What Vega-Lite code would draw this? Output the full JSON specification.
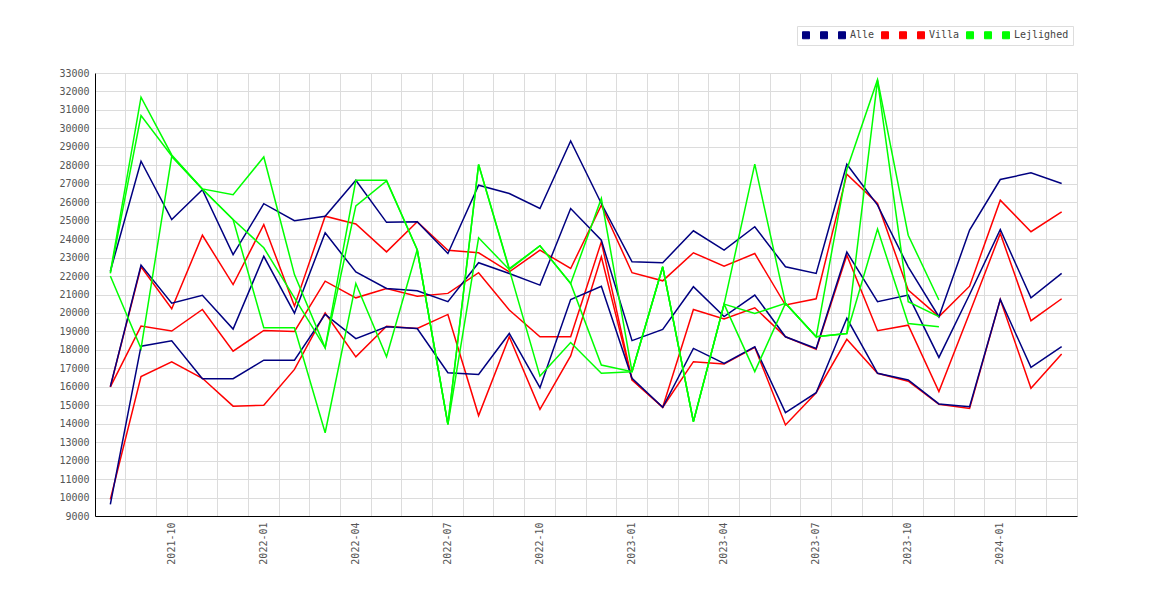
{
  "$schema": "https://vega.github.io/schema/vega-lite/v6.json",
  "autosize": "none",
  "width": 982,
  "height": 443,
  "padding": {"left": 95, "top": 73, "right": 93, "bottom": 84},
  "background": "white",
  "config": {
    "font": "DejaVu Sans Mono",
    "view": {"stroke": null},
    "axis": {
      "labelFont": "DejaVu Sans Mono",
      "labelFontSize": 10,
      "labelColor": "#555555",
      "gridColor": "#dcdcdc",
      "gridWidth": 1,
      "domainColor": "#000000",
      "domainWidth": 1,
      "ticks": false,
      "title": null
    }
  },
  "data": {
    "values": [
      {"m": "2021-08", "Alle_1": 9630, "Alle_2": 16010, "Alle": 22260, "Villa_1": 9900, "Villa_2": 16000, "Villa": 16000, "Lejlighed_1": 22000, "Lejlighed_2": 22150, "Lejlighed": 22200},
      {"m": "2021-09", "Alle_1": 18200, "Alle_2": 22590, "Alle": 28220, "Villa_1": 16550, "Villa_2": 19290, "Villa": 22500, "Lejlighed_1": 18070, "Lejlighed_2": 30690, "Lejlighed": 31690},
      {"m": "2021-10", "Alle_1": 18490, "Alle_2": 20530, "Alle": 25060, "Villa_1": 17350, "Villa_2": 19020, "Villa": 20230, "Lejlighed_1": 28480, "Lejlighed_2": 28500, "Lejlighed": 28560},
      {"m": "2021-11", "Alle_1": 16440, "Alle_2": 20960, "Alle": 26680, "Villa_1": 16460, "Villa_2": 20190, "Villa": 24210, "Lejlighed_1": 26700, "Lejlighed_2": 26710, "Lejlighed": 26720},
      {"m": "2021-12", "Alle_1": 16440, "Alle_2": 19130, "Alle": 23160, "Villa_1": 14950, "Villa_2": 17930, "Villa": 21540, "Lejlighed_1": 25060, "Lejlighed_2": 25060, "Lejlighed": 26410},
      {"m": "2022-01", "Alle_1": 17440, "Alle_2": 23070, "Alle": 25920, "Villa_1": 15000, "Villa_2": 19050, "Villa": 24790, "Lejlighed_1": 19200, "Lejlighed_2": 23530, "Lejlighed": 28450},
      {"m": "2022-02", "Alle_1": 17440, "Alle_2": 19990, "Alle": 25000, "Villa_1": 16940, "Villa_2": 19000, "Villa": 20370, "Lejlighed_1": 19200, "Lejlighed_2": 20820, "Lejlighed": 22080},
      {"m": "2022-03", "Alle_1": 19920, "Alle_2": 24340, "Alle": 25240, "Villa_1": 20000, "Villa_2": 21720, "Villa": 25240, "Lejlighed_1": 13510, "Lejlighed_2": 18110, "Lejlighed": 18110},
      {"m": "2022-04", "Alle_1": 18610, "Alle_2": 22220, "Alle": 27190, "Villa_1": 17620, "Villa_2": 20820, "Villa": 24820, "Lejlighed_1": 21600, "Lejlighed_2": 25800, "Lejlighed": 27190},
      {"m": "2022-05", "Alle_1": 19250, "Alle_2": 21330, "Alle": 24910, "Villa_1": 19280, "Villa_2": 21330, "Villa": 23310, "Lejlighed_1": 17630, "Lejlighed_2": 27150, "Lejlighed": 27190},
      {"m": "2022-06", "Alle_1": 19160, "Alle_2": 21200, "Alle": 24940, "Villa_1": 19160, "Villa_2": 20910, "Villa": 24940, "Lejlighed_1": 23430, "Lejlighed_2": 23430, "Lejlighed": 23430},
      {"m": "2022-07", "Alle_1": 16760, "Alle_2": 20610, "Alle": 23220, "Villa_1": 19920, "Villa_2": 21060, "Villa": 23400, "Lejlighed_1": 13960, "Lejlighed_2": 13960, "Lejlighed": 13960},
      {"m": "2022-08", "Alle_1": 16670, "Alle_2": 22720, "Alle": 26920, "Villa_1": 14440, "Villa_2": 22180, "Villa": 23260, "Lejlighed_1": 24070, "Lejlighed_2": 28040, "Lejlighed": 28040},
      {"m": "2022-09", "Alle_1": 18890, "Alle_2": 22140, "Alle": 26470, "Villa_1": 18710, "Villa_2": 20160, "Villa": 22230, "Lejlighed_1": 22350, "Lejlighed_2": 22350, "Lejlighed": 22400},
      {"m": "2022-10", "Alle_1": 15950, "Alle_2": 21510, "Alle": 25660, "Villa_1": 14780, "Villa_2": 18710, "Villa": 23400, "Lejlighed_1": 16580, "Lejlighed_2": 23640, "Lejlighed": 23640},
      {"m": "2022-11", "Alle_1": 20730, "Alle_2": 25660, "Alle": 29320, "Villa_1": 17670, "Villa_2": 18710, "Villa": 22410, "Lejlighed_1": 18400, "Lejlighed_2": 21600, "Lejlighed": 21600},
      {"m": "2022-12", "Alle_1": 21450, "Alle_2": 23940, "Alle": 25930, "Villa_1": 23040, "Villa_2": 23850, "Villa": 25840, "Lejlighed_1": 16730, "Lejlighed_2": 17180, "Lejlighed": 26200},
      {"m": "2023-01", "Alle_1": 16460, "Alle_2": 18500, "Alle": 22770, "Villa_1": 16370, "Villa_2": 16370, "Villa": 22180, "Lejlighed_1": 16820, "Lejlighed_2": 16820, "Lejlighed": 16820},
      {"m": "2023-02", "Alle_1": 14890, "Alle_2": 19110, "Alle": 22720, "Villa_1": 14890, "Villa_2": 14890, "Villa": 21740, "Lejlighed_1": 22500, "Lejlighed_2": 22500, "Lejlighed": 22500},
      {"m": "2023-03", "Alle_1": 18080, "Alle_2": 21420, "Alle": 24450, "Villa_1": 17360, "Villa_2": 20190, "Villa": 23260, "Lejlighed_1": 14110, "Lejlighed_2": 14110, "Lejlighed": 14110},
      {"m": "2023-04", "Alle_1": 17270, "Alle_2": 19800, "Alle": 23400, "Villa_1": 17230, "Villa_2": 19680, "Villa": 22540, "Lejlighed_1": 20480, "Lejlighed_2": 20480, "Lejlighed": 20480},
      {"m": "2023-05", "Alle_1": 18170, "Alle_2": 20970, "Alle": 24670, "Villa_1": 18140, "Villa_2": 20280, "Villa": 23220, "Lejlighed_1": 16820, "Lejlighed_2": 19970, "Lejlighed": 28060},
      {"m": "2023-06", "Alle_1": 14600, "Alle_2": 18710, "Alle": 22500, "Villa_1": 13930, "Villa_2": 18710, "Villa": 20430, "Lejlighed_1": 20520, "Lejlighed_2": 20520, "Lejlighed": 20520},
      {"m": "2023-07", "Alle_1": 15680, "Alle_2": 18080, "Alle": 22140, "Villa_1": 15680, "Villa_2": 18030, "Villa": 20770, "Lejlighed_1": 18710, "Lejlighed_2": 18710, "Lejlighed": 18710},
      {"m": "2023-08", "Alle_1": 19710, "Alle_2": 23300, "Alle": 28060, "Villa_1": 18570, "Villa_2": 23130, "Villa": 27520, "Lejlighed_1": 18890, "Lejlighed_2": 18890, "Lejlighed": 27770},
      {"m": "2023-09", "Alle_1": 16730, "Alle_2": 20610, "Alle": 25840, "Villa_1": 16730, "Villa_2": 19040, "Villa": 25930, "Lejlighed_1": 24550, "Lejlighed_2": 32600, "Lejlighed": 32640},
      {"m": "2023-10", "Alle_1": 16370, "Alle_2": 20970, "Alle": 22500, "Villa_1": 16300, "Villa_2": 19340, "Villa": 21240, "Lejlighed_1": 19430, "Lejlighed_2": 20610, "Lejlighed": 24210},
      {"m": "2023-11", "Alle_1": 15070, "Alle_2": 17590, "Alle": 19800, "Villa_1": 15050, "Villa_2": 15740, "Villa": 19800, "Lejlighed_1": 19250, "Lejlighed_2": 19800, "Lejlighed": 20700},
      {"m": "2023-12", "Alle_1": 14920, "Alle_2": 21000, "Alle": 24490, "Villa_1": 14830, "Villa_2": 20000, "Villa": 21450},
      {"m": "2024-01", "Alle_1": 20730, "Alle_2": 24520, "Alle": 27230, "Villa_1": 20730, "Villa_2": 24310, "Villa": 26110},
      {"m": "2024-02", "Alle_1": 17050, "Alle_2": 20820, "Alle": 27590, "Villa_1": 15920, "Villa_2": 19580, "Villa": 24400},
      {"m": "2024-03", "Alle_1": 18170, "Alle_2": 22140, "Alle": 27010, "Villa_1": 17780, "Villa_2": 20770, "Villa": 25480}
    ]
  },
  "encoding": {
    "x": {
      "field": "m",
      "type": "ordinal",
      "scale": {"type": "band", "paddingInner": 0, "paddingOuter": 0},
      "axis": {
        "grid": true,
        "bandPosition": 1,
        "labelAngle": 270,
        "labelPadding": 6,
        "labelOverlap": false,
        "labelExpr": "indexof(['01','04','07','10'], slice(datum.value, 5)) >= 0 ? datum.value : ''"
      }
    },
    "y": {
      "field": "v",
      "type": "quantitative",
      "scale": {"domain": [9000, 33000], "nice": false, "zero": false},
      "axis": {
        "grid": true,
        "format": "d",
        "labelPadding": 6,
        "values": [9000, 10000, 11000, 12000, 13000, 14000, 15000, 16000, 17000, 18000, 19000, 20000, 21000, 22000, 23000, 24000, 25000, 26000, 27000, 28000, 29000, 30000, 31000, 32000, 33000]
      }
    },
    "color": {
      "field": "serie",
      "type": "nominal",
      "scale": {
        "domain": ["Alle_1", "Alle_2", "Alle", "Villa_1", "Villa_2", "Villa", "Lejlighed_1", "Lejlighed_2", "Lejlighed"],
        "range": ["#000080", "#000080", "#000080", "#ff0000", "#ff0000", "#ff0000", "#00ff00", "#00ff00", "#00ff00"]
      },
      "legend": {
        "title": null,
        "orient": "none",
        "legendX": 702,
        "legendY": -47,
        "direction": "horizontal",
        "columns": 9,
        "symbolType": "square",
        "symbolSize": 49,
        "symbolStrokeWidth": 1,
        "labelFont": "DejaVu Sans Mono",
        "labelFontSize": 10,
        "labelColor": "#444444",
        "labelOffset": 3,
        "columnPadding": 4,
        "padding": 4,
        "strokeColor": "#dddddd",
        "labelExpr": "indexof(datum.label, '_') >= 0 ? ' ' : datum.label",
        "encode": {
          "symbols": {
            "update": {
              "fill": {"scale": "color", "field": "value"},
              "fillOpacity": {"value": 1},
              "stroke": {"value": "#444444"},
              "strokeWidth": {"value": 1}
            }
          }
        }
      }
    }
  },
  "layer": [
    {
      "transform": [
        {"fold": ["Villa_1", "Villa_2", "Villa"], "as": ["serie", "v"]},
        {"filter": "isValid(datum.v)"}
      ],
      "mark": {"type": "line", "strokeWidth": 1.5}
    },
    {
      "transform": [
        {"fold": ["Alle_1", "Alle_2", "Alle"], "as": ["serie", "v"]},
        {"filter": "isValid(datum.v)"}
      ],
      "mark": {"type": "line", "strokeWidth": 1.5}
    },
    {
      "transform": [
        {"fold": ["Lejlighed_1", "Lejlighed_2", "Lejlighed"], "as": ["serie", "v"]},
        {"filter": "isValid(datum.v)"}
      ],
      "mark": {"type": "line", "strokeWidth": 1.5}
    }
  ]
}
